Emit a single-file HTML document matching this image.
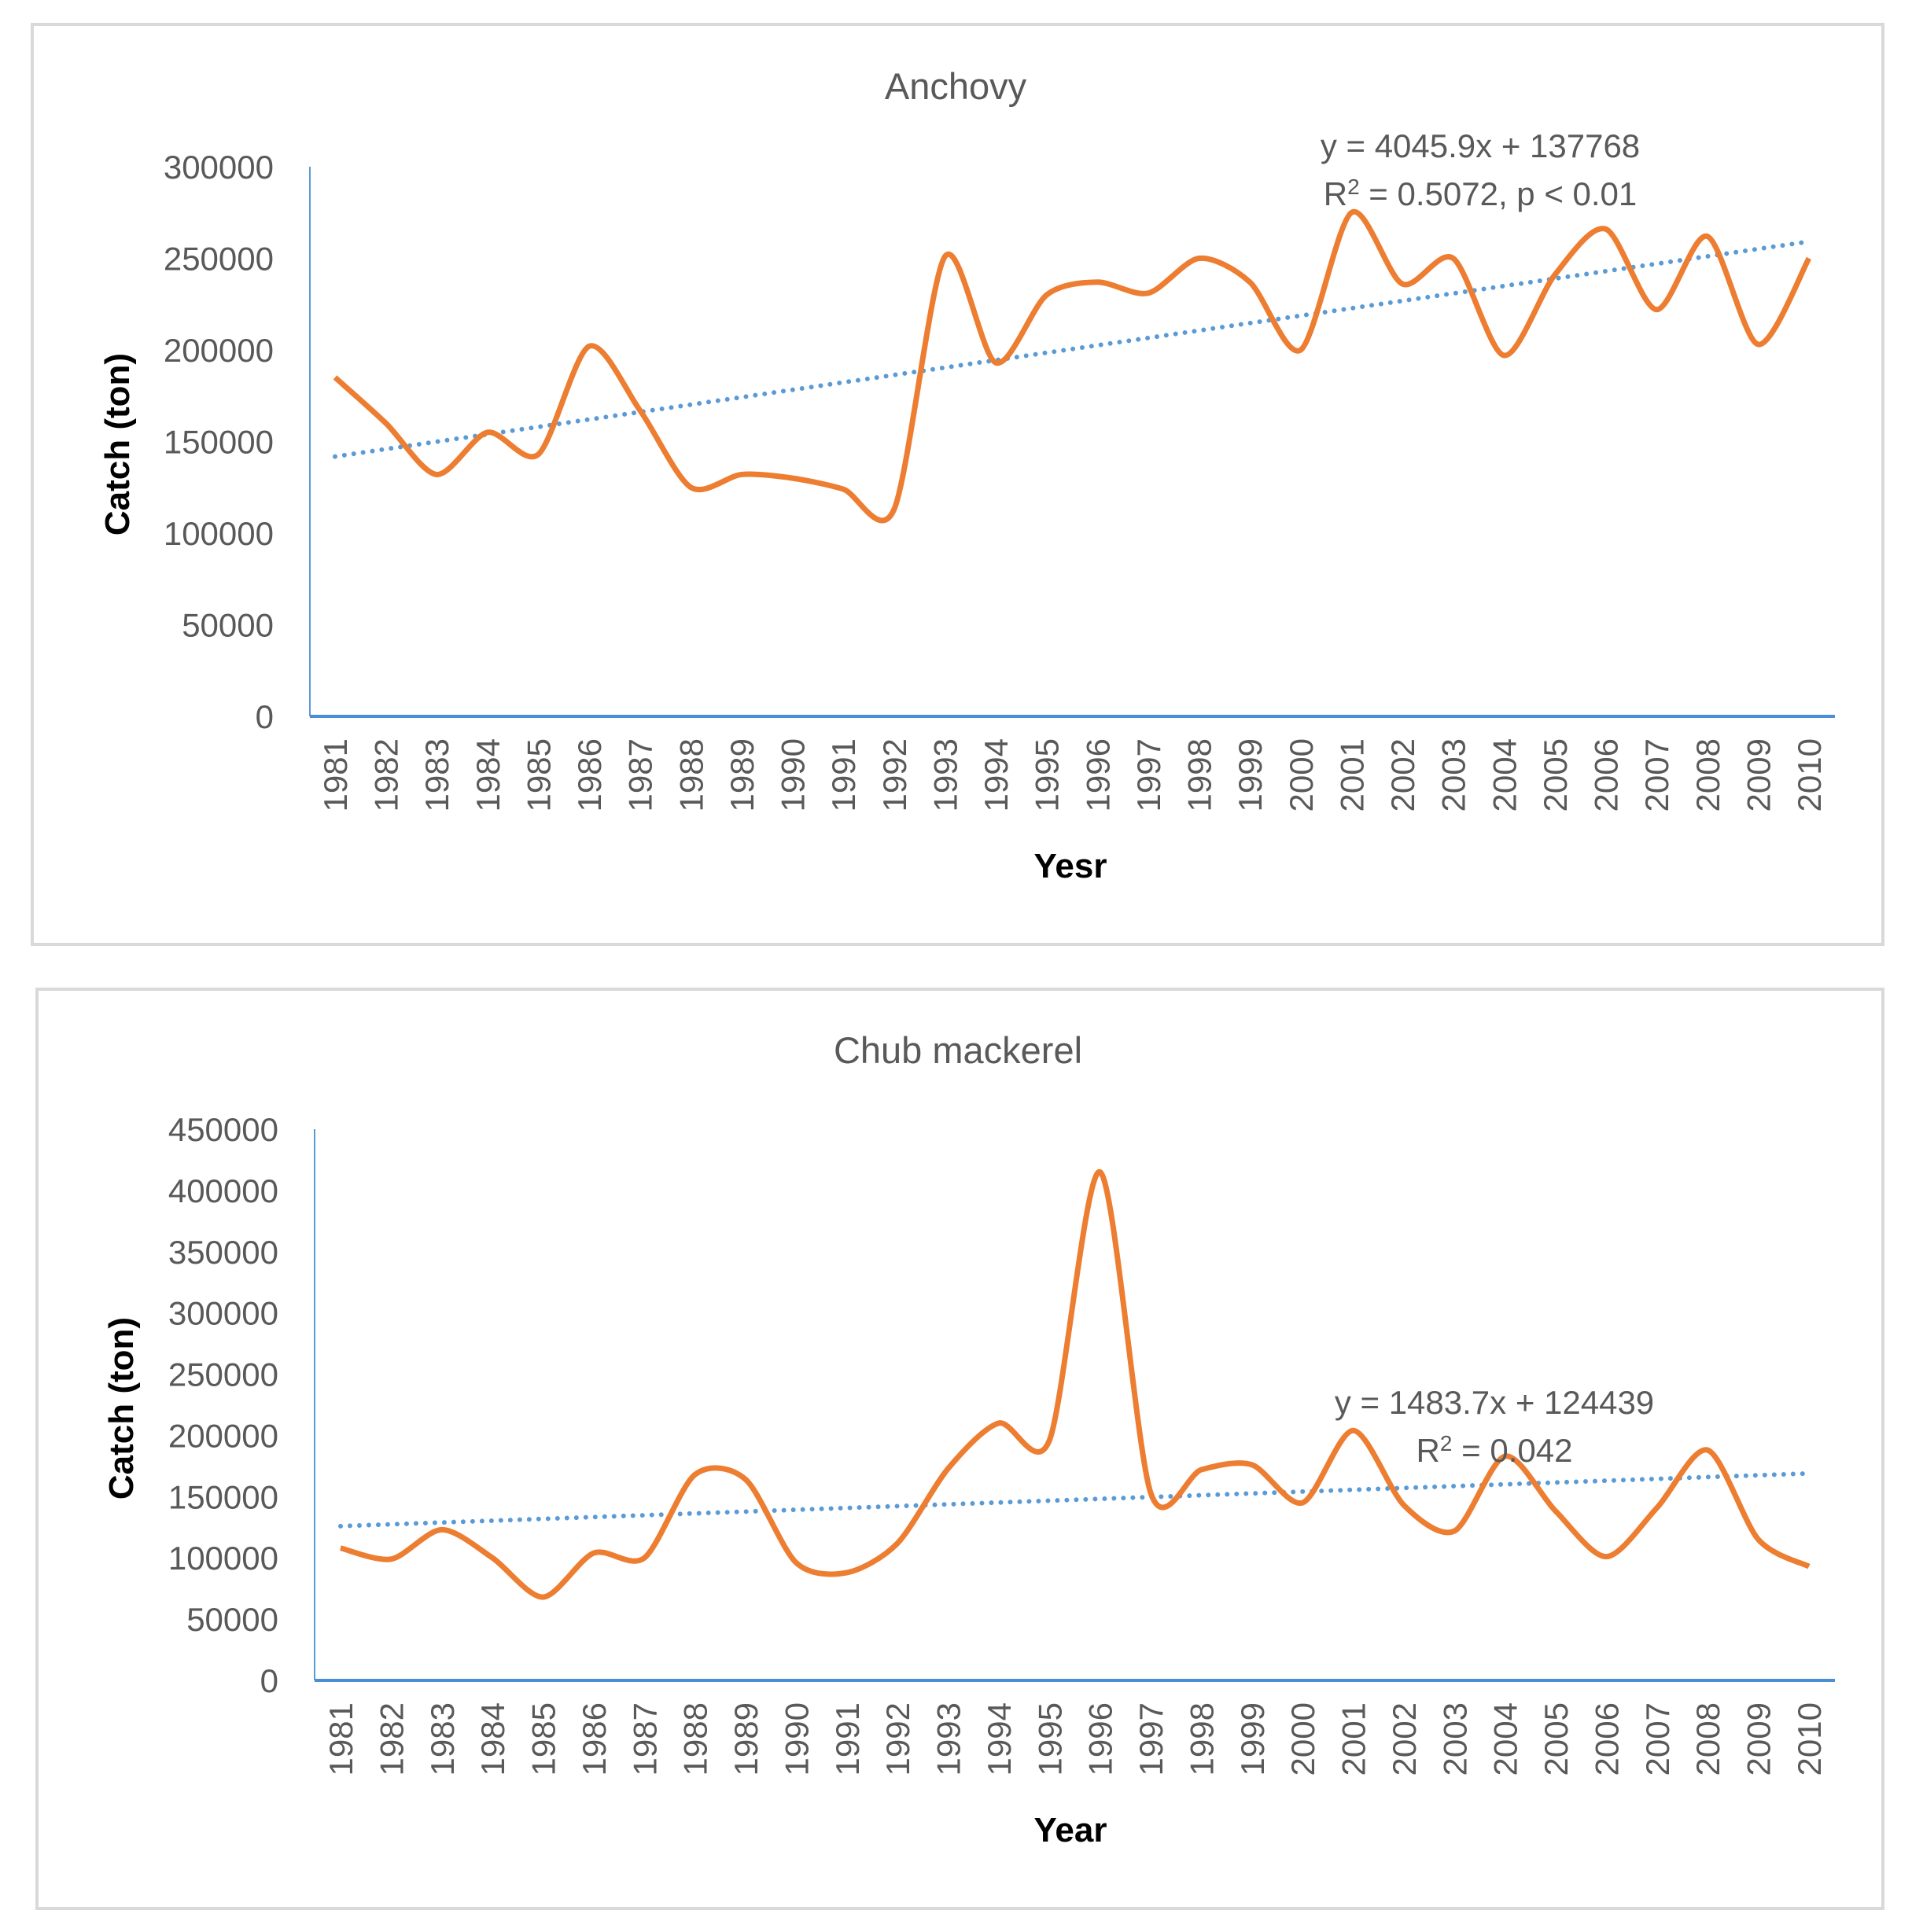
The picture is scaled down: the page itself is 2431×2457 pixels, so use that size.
<!DOCTYPE html>
<html><head><meta charset="utf-8"><style>
html,body{margin:0;padding:0;background:#fff;}
svg{display:block;}
text{font-family:"Liberation Sans",sans-serif;fill:#595959;}
</style></head><body>
<svg id="svg" width="2431" height="2457" viewBox="0 0 2431 2457"></svg>
<script>
const years = [1981,1982,1983,1984,1985,1986,1987,1988,1989,1990,1991,1992,1993,1994,1995,1996,1997,1998,1999,2000,2001,2002,2003,2004,2005,2006,2007,2008,2009,2010];
const anchovyValues = [185000,160000,132000,155000,143000,202000,167000,125000,132000,130000,124000,113000,251000,193000,230000,237000,231000,250000,237000,200000,275000,236000,250000,197000,241000,266000,222000,262000,203000,250000];
const mackerelValues = [108000,99000,123000,100000,68000,104000,100000,168000,164000,96000,88000,112000,173000,210000,196000,415000,153000,172000,176000,145000,204000,143000,122000,183000,138000,101000,141000,188000,115000,93000];
const anchovyTicks = [0,50000,100000,150000,200000,250000,300000];
const mackerelTicks = [0,50000,100000,150000,200000,250000,300000,350000,400000,450000];
const anchovyTrend = [4045.9,137768];
const mackerelTrend = [1483.7,124439];

const NS="http://www.w3.org/2000/svg";
const svg=document.getElementById('svg');
function mk(tag,attrs,parent,text){const e=document.createElementNS(NS,tag);for(const k in attrs)e.setAttribute(k,attrs[k]);if(text!==undefined)e.textContent=text;(parent||svg).appendChild(e);return e;}

function chart(cfg){
  const g=mk('g',{});
  
  
  const frame=mk('rect',{x:cfg.box[0],y:cfg.box[1],width:cfg.box[2]-cfg.box[0],height:cfg.box[3]-cfg.box[1],fill:'#fff',stroke:'#d9d9d9','stroke-width':4},g);
  
  
  const ymax=cfg.ticks[cfg.ticks.length-1];
  const yS=v=>cfg.y0-(v/ymax)*(cfg.y0-cfg.yTop);
  const xS=i=>cfg.x0+i*(cfg.x1-cfg.x0)/(years.length-1);
  const t=mk('text',{x:cfg.titleX,y:cfg.titleY,'text-anchor':'middle','font-size':47},g,cfg.title);
  
  
  cfg.ticks.forEach(v=>{
    const l=mk('text',{x:cfg.axisX-46,y:yS(v)+15,'text-anchor':'end','font-size':42},g,String(v));
    
    
  });
  const ya=mk('line',{x1:cfg.axisX,y1:cfg.yTop,x2:cfg.axisX,y2:cfg.y0,stroke:'#5b9bd5','stroke-width':2},g);
  
  
  const xa=mk('line',{x1:cfg.axisX,y1:cfg.y0,x2:2333,y2:cfg.y0,stroke:'#4a8fd6','stroke-width':4},g);
  
  
  years.forEach((yr,i)=>{
    const l=mk('text',{transform:`translate(${xS(i)+15},${cfg.y0+28}) rotate(-90)`,'text-anchor':'end','font-size':42},g,String(yr));
    
    
  });
  const xt=mk('text',{x:1361,y:cfg.xTitleY,'text-anchor':'middle','font-size':44,'font-weight':'bold',style:'fill:#000'},g,cfg.xTitle);
  
  
  const yt=mk('text',{transform:`translate(${cfg.yTitleX},${cfg.yTitleY}) rotate(-90)`,'text-anchor':'middle','font-size':44,'font-weight':'bold',style:'fill:#000'},g,'Catch (ton)');
  
  
  const tr=mk('line',{x1:xS(0),y1:yS(cfg.trend[0]*1+cfg.trend[1]),x2:xS(years.length-1),y2:yS(cfg.trend[0]*years.length+cfg.trend[1]),stroke:'#5b9bd5','stroke-width':6,'stroke-dasharray':'0 12','stroke-linecap':'round'},g);
  
  
  const pts=cfg.values.map((v,i)=>[xS(i),yS(v)]);
  let d=`M${pts[0][0]},${pts[0][1]}`;
  for(let i=0;i<pts.length-1;i++){
    const p0=pts[Math.max(i-1,0)],p1=pts[i],p2=pts[i+1],p3=pts[Math.min(i+2,pts.length-1)];
    const k=0.14;
    d+=` C${p1[0]+(p2[0]-p0[0])*k},${p1[1]+(p2[1]-p0[1])*k} ${p2[0]-(p3[0]-p1[0])*k},${p2[1]-(p3[1]-p1[1])*k} ${p2[0]},${p2[1]}`;
  }
  const s=mk('path',{d:d,fill:'none',stroke:'#ed7d31','stroke-width':7,'stroke-linejoin':'round'},g);
  
  
  const e1=mk('text',{x:cfg.eqX,y:cfg.eqY,'text-anchor':'middle','font-size':42},g,cfg.eq1);
  
  
  const e2=mk('text',{x:cfg.eqX,y:cfg.eqY+61,'text-anchor':'middle','font-size':42},g);
  
  
  e2.innerHTML=cfg.eq2;
}

chart({name:'anchovy-chart',box:[41,31,2394,1201],title:'Anchovy',titleX:1215,titleY:126,
  axisX:394,yTop:212,y0:911,x0:426,x1:2300,ticks:anchovyTicks,values:anchovyValues,trend:anchovyTrend,
  xTitle:'Yesr',xTitleY:1116,yTitleX:164,yTitleY:565,eqX:1882,eqY:200,
  eq1:'y = 4045.9x + 137768',eq2:'R<tspan dy="-14" font-size="28">2</tspan><tspan dy="14"> = 0.5072, p &lt; 0.01</tspan>'});
chart({name:'chub-mackerel-chart',box:[47,1258,2394,2427],title:'Chub mackerel',titleX:1218,titleY:1352,
  axisX:400,yTop:1436,y0:2137,x0:433,x1:2300,ticks:mackerelTicks,values:mackerelValues,trend:mackerelTrend,
  xTitle:'Year',xTitleY:2342,yTitleX:169,yTitleY:1791,eqX:1900,eqY:1798,
  eq1:'y = 1483.7x + 124439',eq2:'R<tspan dy="-14" font-size="28">2</tspan><tspan dy="14"> = 0.042</tspan>'});
</script>
</body></html>
